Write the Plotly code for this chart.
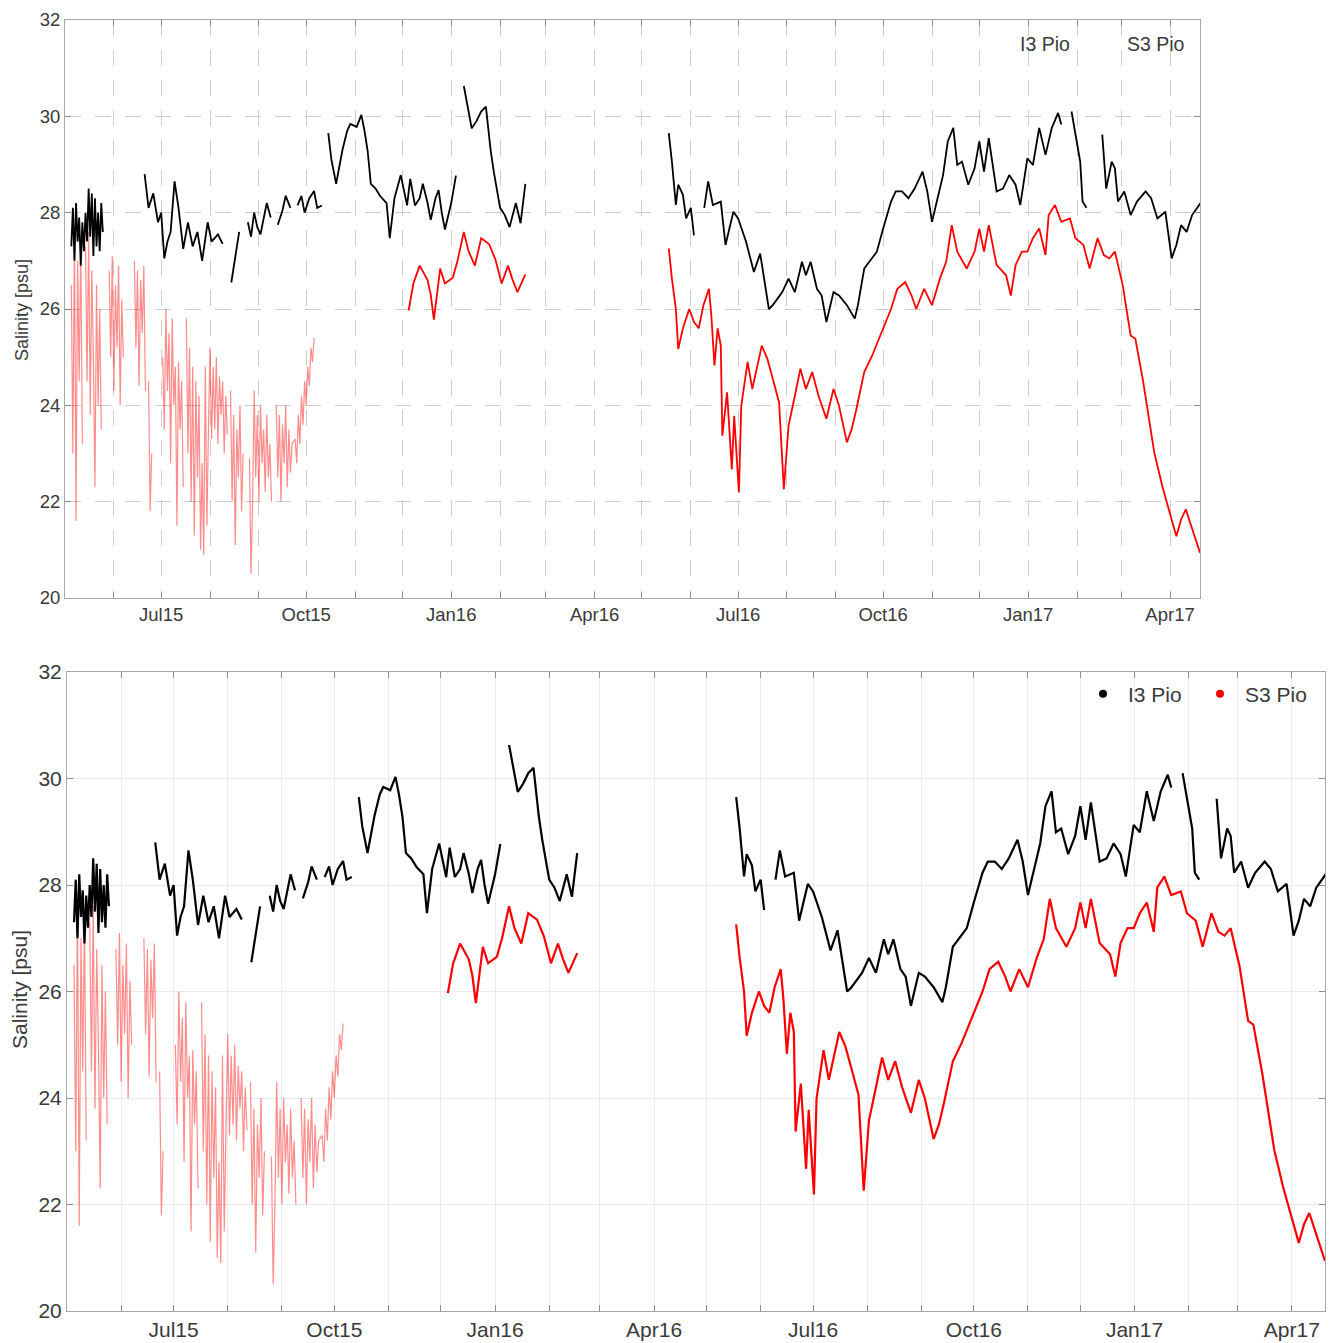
import pandas as pd
import plotly.graph_objects as go

BASE = pd.Timestamp("2015-05-01")
X_START, X_END = "2015-05-01", "2017-04-20"

# ---------- I3 Pio (black): days since 2015-05-01, None = data gap ----------
i3_days = [4, 5, 6, 7, 8, 9, 10, 11, 12, 13, 14, 15, 16, 17, 18, 19, 20, 21, 22, 23, 24, None,
           50.5, 53, 56, 59, 61, 63, 65, 67, 69.5, 72, 75, 78, 81, 84, 87, 90.5, 93, 97, 100, None,
           105.5, 107.5, 110.5, None,
           116, 118, 120, 122, 124, 126, 128, 130.5, None,
           135, 138, 140, 143, None,
           147.5, 150, 152, 155, 158, 160, 163, None,
           167, 169, 172, 176, 179, 181, 185, 188, 190, 192, 194, 197, 200, 204, 206, 209, 213, 217,
           219, 222, 225, 227, 230, 232, 235, 237, 239, 241, 245, 248, None,
           253, 256, 258, 261, 264, 267, 268, 270, 272, 274, 276, 279, 282, 286, 289, 292, None,
           383, 385, 387.5, 389, 392, 394, 397, 399, None,
           405.5, 408, 411, 416, 419, 424, 427, 432, 437, 441, 446.5, 449, 455, 459, 463, 467.5, 470,
           473, 477, 480, 483, 487.5, 491, 496, 501, 503, 507, 510, 515, 519, 524, 527, 531, 535, 539,
           544, 547, 550, 554, 557, 560, 563.5, 566, 569, 573, 577, 580, 583, 586, 591, 595, 599, 603,
           606, 610.5, 614, 618, 622, 626, 630, 632, None,
           638.5, 641, 644, 645.5, 648, None,
           658, 660.5, 664, 666, 668, 672, 676, 680, 685.5, 689, 693, 698, 702, 705, 708, 711.5, 715, 721]
i3_sal = [27.3, 28.1, 27.0, 28.2, 27.4, 27.9, 26.9, 27.8, 27.2, 28.0, 27.4, 28.5, 27.5, 28.4, 27.1, 28.3,
          27.3, 28.0, 27.2, 28.2, 27.6, None,
          28.8, 28.1, 28.4, 27.8, 28.0, 27.05, 27.4, 27.6, 28.65, 28.1, 27.25, 27.8, 27.3, 27.6, 27.0,
          27.8, 27.4, 27.55, 27.35, None,
          26.55, 27.0, 27.6, None,
          27.8, 27.5, 28.0, 27.7, 27.55, 27.9, 28.2, 27.9, None,
          27.75, 28.05, 28.35, 28.1, None,
          28.15, 28.35, 28.0, 28.3, 28.45, 28.1, 28.15, None,
          29.65, 29.1, 28.6, 29.3, 29.7, 29.84, 29.78, 30.03, 29.7, 29.28, 28.6, 28.5, 28.34, 28.2,
          27.47, 28.3, 28.78, 28.15, 28.7, 28.15, 28.3, 28.6, 28.2, 27.85, 28.3, 28.47, 28.0, 27.65,
          28.2, 28.77, None,
          30.63, 30.1, 29.75, 29.9, 30.1, 30.2, 29.9, 29.3, 28.85, 28.5, 28.1, 27.95, 27.7, 28.2,
          27.78, 28.6, None,
          29.65, 29.06, 28.16, 28.58, 28.37, 27.88, 28.1, 27.53, None,
          28.1, 28.65, 28.16, 28.23, 27.33, 28.02, 27.88, 27.4, 26.77, 27.15, 26.0, 26.08, 26.35,
          26.63, 26.35, 26.98, 26.7, 26.98, 26.42, 26.28, 25.73, 26.35, 26.28, 26.08, 25.8, 26.08,
          26.84, 26.98, 27.19, 27.67, 28.23, 28.44, 28.44, 28.3, 28.5, 28.85, 28.44, 27.81, 28.37,
          28.78, 29.48, 29.76, 28.99, 29.06, 28.58, 28.92, 29.48, 28.85, 29.55, 28.44, 28.5, 28.78,
          28.58, 28.16, 29.13, 28.99, 29.76, 29.2, 29.76, 30.07, 29.83, None,
          30.1, 29.62, 29.06, 28.23, 28.1, None,
          29.62, 28.5, 29.06, 28.92, 28.23, 28.44, 27.95, 28.23, 28.44, 28.3, 27.88, 28.02, 27.05,
          27.33, 27.74, 27.6, 27.95, 28.23]

# ---------- S3 Pio (red), 2015 scattered part ----------
s3_scatter_days = [4, 5, 6, 7, 8, 9, 10, 11, None,
                   13, 14, 15, 16, 17, 18, 19, 20, 21, 22, 23, None,
                   28, 29, 30, 31, 32, 33, 34, 35, 36, 37, None,
                   44, 45, 46, 47, 48, 49, 50, 51, None,
                   53, 54, 55, None,
                   62, 63, 64, 65, 66, 67, 68, 69, 70, 71, 72, 73, 74, 75, None,
                   77, 78, 79, 80, 81, 82, 83, 84, 85, 86, 87, 88, 89, 90, 91,
                   92, 93, 94, 95, 96, 97, 98, 99, 100, 101, 102, 103, None,
                   105, 106, 107, 108, 109, 110, 111, 112, 113, None,
                   117, 118, 119, 120, 121, 122, 123, 124, 125, 126, 127, 128, 129, 130, 131, None,
                   134, 135, 136, 137, 138, 139, 140, 141, 142, 143, 144,
                   146, 147, 148, 149, 150, 151, 152, 153, 154, 155, 156, 157, 158]
s3_scatter_sal = [26.5, 23.0, 27.7, 21.6, 27.0, 24.5, 27.4, 23.2, None,
                  27.3, 24.5, 27.6, 23.8, 26.8, 25.0, 22.3, 26.5, 24.0, 26.0, 23.5, None,
                  26.8, 25.0, 27.1, 24.3, 26.5, 25.2, 26.9, 24.0, 26.2, 25.0, None,
                  27.0, 25.2, 26.8, 24.4, 26.6, 25.5, 26.9, 24.3, None,
                  24.5, 21.8, 23.0, None,
                  25.0, 23.5, 26.0, 24.3, 25.5, 22.8, 25.8, 24.0, 24.8, 21.5, 24.9, 23.5, 24.5, 22.3, None,
                  25.8, 23.0, 25.2, 22.0, 24.8, 21.3, 24.5, 22.5, 24.2, 21.0, 22.8, 20.9, 24.8, 21.5, 23.5,
                  25.2, 23.3, 24.8, 23.5, 25.0, 23.2, 24.6, 23.8, 24.5, 23.0, 24.2, 23.4, None,
                  24.3, 22.0, 23.8, 21.1, 23.5, 22.5, 24.0, 21.8, 23.0, None,
                  22.9, 20.5, 22.0, 24.3, 22.5, 23.8, 22.0, 24.0, 22.8, 23.5, 22.2, 23.8, 22.5, 23.2, 22.0, None,
                  24.0, 22.5, 23.8, 22.0, 23.6, 22.8, 24.0, 22.3, 23.5, 22.6, 23.2,
                  23.3, 22.8, 23.8, 23.2, 24.2, 23.6, 24.5, 24.0, 24.8, 24.4, 25.2, 24.9, 25.4]

# ---------- S3 Pio (red), continuous parts ----------
s3_days = [218, 221, 225, 230, 232, 234, 238, 241, 246, 249, 253, 256, 260, 264, 269, 273, 277, 281,
           284, 287, 292, None,
           383, 385, 387.5, 389, 392, 396, 399, 402, 405, 408.5, 410, 412, 414, 416, 417, 420, 423,
           424.5, 427.5, 429, 433, 436, 442, 445.5, 449, 453, 456, 459, 463, 466.5, 470, 474, 478,
           483, 487.5, 491, 496, 499, 502, 505, 507, 512, 518, 524, 528, 533, 537, 540, 545, 550,
           555, 559, 562.5, 566, 572, 577, 580, 583, 586, 591, 597, 600, 603, 607, 610.5, 614, 618,
           622, 624, 628, 632, 637.5, 641, 646, 650, 655, 659, 662.5, 666, 671, 676, 679, 684,
           687.5, 691, 696, 700, 705, 708, 711, 714.5, 720]
s3_sal = [25.97, 26.53, 26.9, 26.6, 26.3, 25.78, 26.84, 26.53, 26.65, 27.0, 27.6, 27.2, 26.9, 27.47,
          27.35, 27.03, 26.53, 26.9, 26.6, 26.35, 26.72, None,
          27.26, 26.63, 26.0, 25.17, 25.6, 26.0, 25.73, 25.6, 26.08, 26.42, 25.87, 24.83, 25.6,
          25.24, 23.37, 24.27, 22.67, 23.78, 22.19, 23.99, 24.9, 24.34, 25.24, 24.97, 24.55, 24.06,
          22.26, 23.58, 24.2, 24.76, 24.34, 24.69, 24.2, 23.72, 24.34, 23.99, 23.23, 23.5, 23.92,
          24.41, 24.69, 25.03, 25.52, 26.0, 26.42, 26.56, 26.28, 26.0, 26.42, 26.08, 26.63, 26.98,
          27.74, 27.19, 26.84, 27.19, 27.67, 27.19, 27.74, 26.91, 26.7, 26.28, 26.91, 27.19, 27.19,
          27.47, 27.67, 27.12, 27.95, 28.16, 27.81, 27.88, 27.47, 27.33, 26.84, 27.47, 27.12, 27.05,
          27.19, 26.49, 25.45, 25.38, 24.48, 23.78, 23.02, 22.33, 21.84, 21.28, 21.63, 21.84, 21.49,
          20.94]

quarter_dates = ["2015-07-01", "2015-10-01", "2016-01-01", "2016-04-01",
                 "2016-07-01", "2016-10-01", "2017-01-01", "2017-04-01"]
quarter_labels = ["Jul15", "Oct15", "Jan16", "Apr16", "Jul16", "Oct16", "Jan17", "Apr17"]
y_ticks = [20, 22, 24, 26, 28, 30, 32]
series_names = ["I3 Pio", "S3 Pio"]
series_colors = ["#000000", "#ff0000"]


def to_dates(days):
    return [None if d is None else BASE + pd.Timedelta(days=d) for d in days]


FONT = "Liberation Sans, Arial, Helvetica, sans-serif"
TXT = "#3a3a3a"
fig = go.Figure()

panels = [
    dict(xa="x", ya="y", lw=1.8, legend="legend", msize=1, mcol=["rgba(0,0,0,0)"] * 2),
    dict(xa="x2", ya="y2", lw=2.2, legend="legend2", msize=8, mcol=series_colors),
]
for p in panels:
    fig.add_trace(go.Scatter(x=to_dates(s3_scatter_days), y=s3_scatter_sal, mode="lines",
                             line=dict(color=series_colors[1], width=1.2), opacity=0.45,
                             connectgaps=False, showlegend=False, xaxis=p["xa"], yaxis=p["ya"]))
    fig.add_trace(go.Scatter(x=to_dates(s3_days), y=s3_sal, mode="lines",
                             line=dict(color=series_colors[1], width=p["lw"]),
                             connectgaps=False, showlegend=False, xaxis=p["xa"], yaxis=p["ya"]))
    fig.add_trace(go.Scatter(x=to_dates(i3_days), y=i3_sal, mode="lines",
                             line=dict(color=series_colors[0], width=p["lw"]),
                             connectgaps=False, showlegend=False, xaxis=p["xa"], yaxis=p["ya"]))
    # legend entries
    for name, col in zip(series_names, p["mcol"]):
        fig.add_trace(go.Scatter(x=[None], y=[None], mode="markers", name=name,
                                 marker=dict(color=col, size=p["msize"]),
                                 xaxis=p["xa"], yaxis=p["ya"], legend=p["legend"]))


def xaxis_style(domain, dashed, fsize):
    gc = "#cdcdcd" if dashed else "#ebebeb"
    gd = "16px,14px" if dashed else "solid"
    return dict(
        domain=domain, type="date", range=[X_START, X_END], automargin=False,
        tickmode="array", tickvals=quarter_dates, ticktext=quarter_labels,
        ticks="inside", ticklen=6, tickcolor="#8c8c8c", tickwidth=1,
        showline=True, linecolor="#a8a8a8", linewidth=1, mirror="ticks",
        showgrid=True, gridcolor=gc, gridwidth=1, griddash=gd,
        minor=dict(dtick="M1", tick0="2015-05-01", ticks="inside", ticklen=6,
                   tickcolor="#8c8c8c", showgrid=True, gridcolor=gc, griddash=gd),
        tickfont=dict(family=FONT, size=fsize, color=TXT),
        zeroline=False, fixedrange=True,
    )


def yaxis_style(domain, anchor, dashed, fsize):
    return dict(
        domain=domain, anchor=anchor, range=[20, 32], tickmode="array", tickvals=y_ticks,
        automargin=False,
        ticks="inside", ticklen=6, tickcolor="#8c8c8c",
        showline=True, linecolor="#a8a8a8", linewidth=1, mirror="ticks",
        showgrid=True, gridcolor="#cdcdcd" if dashed else "#ebebeb",
        griddash="16px,14px" if dashed else "solid",
        tickfont=dict(family=FONT, size=fsize, color=TXT),
        zeroline=False, fixedrange=True,
    )


W, H = 1335, 1343
fig.update_layout(
    width=W, height=H, autosize=False,
    margin=dict(l=0, r=0, t=0, b=0, autoexpand=False),
    paper_bgcolor="white", plot_bgcolor="white",
    font=dict(family=FONT, color=TXT),
    xaxis=dict(anchor="y", **xaxis_style([65 / W, 1200 / W], True, 18.5)),
    yaxis=yaxis_style([1 - 598 / H, 1 - 20 / H], "x", True, 18.5),
    xaxis2=dict(anchor="y2", **xaxis_style([67 / W, 1325 / W], False, 21)),
    yaxis2=yaxis_style([1 - 1311 / H, 1 - 672 / H], "x2", False, 21),
    legend=dict(orientation="h", x=980 / W, xanchor="left", y=1 - 44 / H, yanchor="middle",
                bgcolor="rgba(255,255,255,0)", font=dict(family=FONT, size=19.5, color=TXT),
                itemwidth=30, entrywidth=62, tracegroupgap=0),
    legend2=dict(orientation="h", x=1078 / W, xanchor="left", y=1 - 694 / H, yanchor="middle",
                 bgcolor="rgba(255,255,255,0)", font=dict(family=FONT, size=21, color=TXT),
                 itemwidth=40, entrywidth=62, tracegroupgap=0),
    annotations=[
        dict(text="Salinity [psu]", textangle=-90, x=22 / W, y=1 - 310 / H, xref="paper",
             yref="paper", xanchor="center", yanchor="middle", showarrow=False,
             font=dict(family=FONT, size=18, color=TXT)),
        dict(text="Salinity [psu]", textangle=-90, x=19 / W, y=1 - 990 / H, xref="paper",
             yref="paper", xanchor="center", yanchor="middle", showarrow=False,
             font=dict(family=FONT, size=21, color=TXT)),
    ],
)

fig.write_html("out.html", include_plotlyjs=True, config={"displayModeBar": False})
